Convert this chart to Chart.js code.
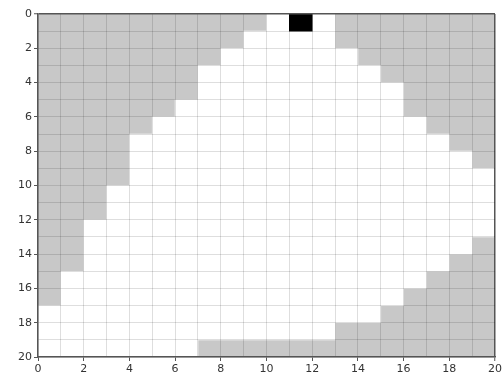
<!DOCTYPE html>
<html>
<head>
<meta charset="utf-8">
<script src="https://cdn.jsdelivr.net/npm/chart.js@4"></script>
<style>
  html, body { margin: 0; padding: 0; background: #fff; }
  #wrap { width: 504px; height: 381px; position: relative; }
</style>
</head>
<body>
<div id="wrap"><canvas id="chart"></canvas></div>
<script>
// grid is 20 x 20, row 0 at the top
const GRID_SIZE = 20;
// white run per row: columns [whiteStart, whiteEnd)
const whiteStart = [10, 9, 8, 7, 7, 6, 5, 4, 4, 4, 3, 3, 2, 2, 2, 1, 1, 0, 0, 0];
const whiteEnd   = [13, 13, 14, 15, 16, 16, 17, 18, 19, 20, 20, 20, 20, 19, 18, 17, 16, 15, 13, 7];
// single black cell
const blackRows = [0];
const blackCols = [11];
const tickValues = [0, 2, 4, 6, 8, 10, 12, 14, 16, 18, 20];

const GRAY = '#c8c8c8';
const SPINE = '#555555';
const GRID_COLOR = 'rgba(0,0,0,0.13)';
const NONE = 'rgba(0,0,0,0)';

const grayBars = [];
const whiteBars = [];
whiteStart.forEach((s, r) => {
  const e = whiteEnd[r];
  if (s > 0) grayBars.push({ y: r + 0.5, x: [0, s] });
  if (e < GRID_SIZE) grayBars.push({ y: r + 0.5, x: [e, GRID_SIZE] });
  whiteBars.push({ y: r + 0.5, x: [s, e] });
});
const blackBars = blackRows.map((r, i) => ({ y: r + 0.5, x: [blackCols[i], blackCols[i] + 1] }));

const barDefaults = {
  borderWidth: 0,
  barPercentage: 1,
  categoryPercentage: 1,
  grouped: false,
};

const tickFont = { family: 'DejaVu Sans', size: 11 };

// edge = tick value where the grid line doubles as the top/right spine
function axis(edge, extra) {
  return {
    type: 'linear',
    min: 0,
    max: GRID_SIZE,
    offset: false,
    border: { display: true, color: SPINE, width: 1.5, z: 2 },
    grid: {
      offset: false,
      z: 1,
      color: (ctx) => (ctx.tick && ctx.tick.value === edge ? SPINE : GRID_COLOR),
      lineWidth: (ctx) => (ctx.tick && ctx.tick.value === edge ? 1.5 : 1),
      drawTicks: true,
      tickLength: 4,
      tickWidth: 1,
      tickColor: (ctx) => (ctx.tick && tickValues.includes(ctx.tick.value) ? SPINE : NONE),
    },
    ticks: {
      stepSize: 1,
      autoSkip: false,
      maxRotation: 0,
      padding: 2,
      color: '#333',
      font: tickFont,
      callback: (v) => (tickValues.includes(v) ? String(v) : ''),
    },
    ...extra,
  };
}

new Chart(document.getElementById('chart'), {
  type: 'bar',
  data: {
    // first dataset is drawn on top
    datasets: [
      { ...barDefaults, data: blackBars, backgroundColor: '#000000' },
      { ...barDefaults, data: whiteBars, backgroundColor: '#ffffff' },
      { ...barDefaults, data: grayBars, backgroundColor: GRAY },
    ],
  },
  options: {
    indexAxis: 'y',
    responsive: true,
    maintainAspectRatio: false,
    animation: false,
    layout: { padding: { top: 14, right: 7, left: 0, bottom: 0 } },
    plugins: { legend: { display: false }, tooltip: { enabled: false } },
    scales: {
      x: axis(GRID_SIZE, {
        position: 'bottom',
        afterFit: (scale) => { scale.height = 24; },
      }),
      y: axis(0, {
        position: 'left',
        reverse: true,
        afterFit: (scale) => { scale.width = 38; },
      }),
    },
  },
});
</script>
</body>
</html>
